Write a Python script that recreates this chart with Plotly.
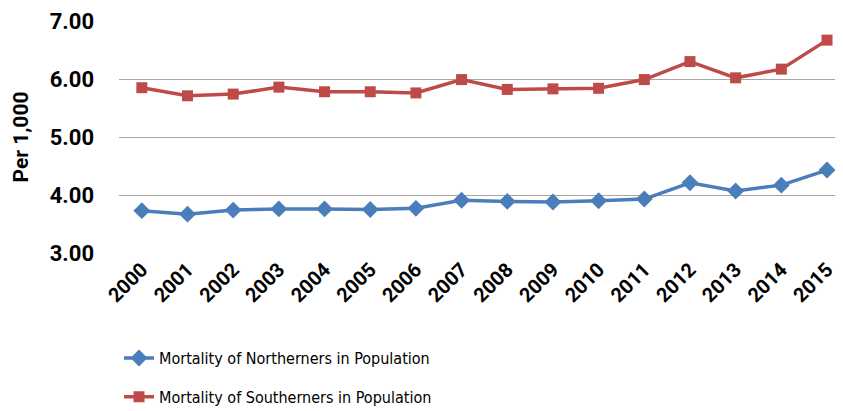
import plotly.graph_objects as go

years = [str(y) for y in range(2000, 2016)]
northerners = [3.73, 3.67, 3.74, 3.76, 3.76, 3.75, 3.77, 3.91, 3.89, 3.88, 3.90, 3.93, 4.21, 4.07, 4.17, 4.43]
southerners = [5.85, 5.71, 5.74, 5.86, 5.78, 5.78, 5.76, 5.99, 5.82, 5.83, 5.84, 5.99, 6.30, 6.02, 6.17, 6.67]
y_ticks = [3, 4, 5, 6, 7]
y_tick_labels = ["3.00", "4.00", "5.00", "6.00", "7.00"]
name_n = "Mortality of Northerners in Population"
name_s = "Mortality of Southerners in Population"

BOLD = "Roboto"
LEG = "DejaVu Sans Condensed, Roboto"

fig = go.Figure()
fig.add_trace(go.Scatter(
    x=years, y=northerners, name=name_n, mode="lines+markers",
    line=dict(color="#4A7EBB", width=3.5),
    marker=dict(symbol="diamond", size=13, color="#4A7EBB"),
    legendgroup="n",
))
fig.add_trace(go.Scatter(
    x=years, y=southerners, name=name_s, mode="lines+markers",
    line=dict(color="#BE4B48", width=3.5),
    marker=dict(symbol="square", size=11, color="#BE4B48"),
    legendgroup="s",
))

fig.update_layout(
    width=835, height=403,
    margin=dict(l=111, r=0, t=13, b=158, autoexpand=False),
    paper_bgcolor="white", plot_bgcolor="white",
    showlegend=True,
    legend=dict(
        orientation="v", x=0.0, xanchor="left", y=-0.38, yanchor="top",
        font=dict(family=LEG, size=16, color="#000000"),
        tracegroupgap=15, bgcolor="rgba(0,0,0,0)",
    ),
    xaxis=dict(
        type="category", range=[-0.5, 15.35], automargin=False,
        showgrid=False, showline=False, zeroline=False,
        tickangle=-45, ticks="",
        tickfont=dict(family=BOLD, size=20, color="#000000", weight="bold"),
    ),
    yaxis=dict(
        range=[3, 7], tickvals=y_ticks, ticktext=y_tick_labels, automargin=False,
        showgrid=True, gridcolor="#A6A6A6", gridwidth=1.3,
        zeroline=False, showline=False, ticks="",
        ticklabelstandoff=24,
        tickfont=dict(family=BOLD, size=22, color="#000000", weight="bold"),
        title=dict(text="Per 1,000", standoff=15,
                   font=dict(family=BOLD, size=21, color="#000000", weight="bold")),
    ),
)

fig.write_html("out.html")
